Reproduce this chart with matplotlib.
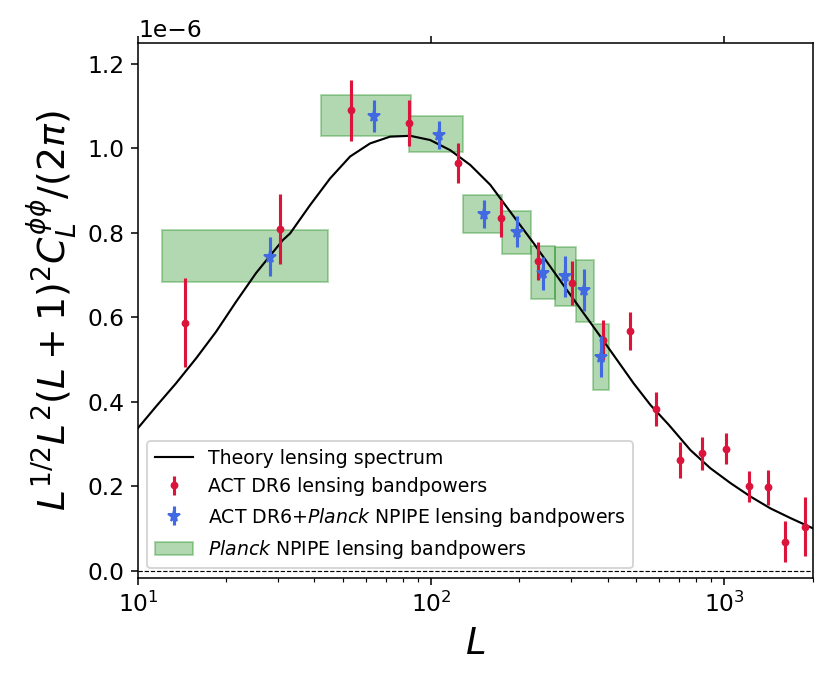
import matplotlib
matplotlib.use('Agg')
import matplotlib.pyplot as plt
import numpy as np

# theory curve (L, value in 1e-6)
L_theory = [10.0, 11.52, 13.48, 15.78, 18.46, 21.60, 25.27, 28.06, 31.18, 33.03, 38.64, 45.2,
            52.9, 61.9, 72.4, 84.8, 99.2, 116.1, 135.9, 159.0, 186.1, 223.4, 290.2, 377.5,
            490.1, 559, 645.6, 765.6, 895.6, 1048, 1227, 1435, 1680, 2000]
C_theory = [0.338, 0.389, 0.444, 0.503, 0.566, 0.637, 0.705, 0.744, 0.783, 0.799, 0.866, 0.929,
            0.981, 1.012, 1.028, 1.030, 1.020, 0.996, 0.961, 0.914, 0.850, 0.776, 0.665, 0.555,
            0.444, 0.393, 0.346, 0.286, 0.243, 0.208, 0.176, 0.148, 0.125, 0.101]

# ACT DR6
L_act = [14.5, 30.6, 53.2, 83.9, 123.6, 173, 232, 303, 385, 477, 586, 708, 839, 1009, 1211, 1413, 1615, 1888]
C_act = [0.588, 0.809, 1.090, 1.060, 0.965, 0.835, 0.734, 0.682, 0.547, 0.568, 0.383, 0.263, 0.279,
         0.289, 0.200, 0.198, 0.069, 0.105]
E_act = [0.106, 0.083, 0.072, 0.055, 0.047, 0.044, 0.045, 0.052, 0.047, 0.044, 0.041, 0.043, 0.039,
         0.037, 0.037, 0.041, 0.048, 0.070]

# ACT DR6 + Planck NPIPE
L_comb = [28.1, 63.7, 106.7, 151, 196, 241.5, 286, 332, 380]
C_comb = [0.744, 1.077, 1.032, 0.845, 0.803, 0.705, 0.697, 0.665, 0.507]
E_comb = [0.046, 0.037, 0.033, 0.034, 0.036, 0.039, 0.048, 0.049, 0.049]

# Planck NPIPE bins
L_lo = [12.05, 42.0, 83.8, 128.8, 174, 219, 265, 312, 357]
L_hi = [44.4, 85.5, 128.8, 174, 219, 265, 312, 358, 405]
C_pl = [0.745, 1.078, 1.034, 0.845, 0.801, 0.706, 0.696, 0.663, 0.506]
E_pl = [0.061, 0.048, 0.043, 0.045, 0.051, 0.062, 0.070, 0.073, 0.078]

s = 1e-6

fig = plt.figure(figsize=(831/140, 688/140), dpi=140)
ax = fig.add_axes([0.166, 0.160, 0.812, 0.7775])

ax.plot(L_theory, np.array(C_theory)*s, color='k', lw=1.1, label='Theory lensing spectrum', zorder=3)

ax.errorbar(L_act, np.array(C_act)*s, yerr=np.array(E_act)*s, fmt='o', color='crimson',
            markersize=3, elinewidth=1.6, label='ACT DR6 lensing bandpowers', zorder=4)
ax.errorbar(L_comb, np.array(C_comb)*s, yerr=np.array(E_comb)*s, fmt='*', color='royalblue',
            markersize=6, elinewidth=1.6, label=r'ACT DR6+$\it{Planck}$ NPIPE lensing bandpowers', zorder=5)

lo = np.array(L_lo)
hi = np.array(L_hi)
ax.bar(lo, 2*np.array(E_pl)*s, width=hi-lo, bottom=(np.array(C_pl)-np.array(E_pl))*s, align='edge',
       color='green', alpha=0.3, edgecolor='green', linewidth=1.0,
       label=r'$\it{Planck}$ NPIPE lensing bandpowers', zorder=2)

ax.axhline(0, color='k', ls='--', lw=0.6, zorder=1)

ax.set_xscale('log')
ax.set_xlim(10, 2000)
ax.set_ylim(-0.0166e-6, 1.2497e-6)
ax.tick_params(axis='both', which='major', labelsize=12)
ax.xaxis.set_tick_params(which='major', top=True)
ax.yaxis.get_offset_text().set_fontsize(12)

ax.set_xlabel(r'$L$', fontsize=19)
ax.set_ylabel(r'$L^{1/2}L^2(L+1)^2C_L^{\phi\phi}/(2\pi)$', fontsize=19.5)

ax.legend(loc='lower left', fontsize=9.7)

plt.savefig('out.png', dpi=140)
